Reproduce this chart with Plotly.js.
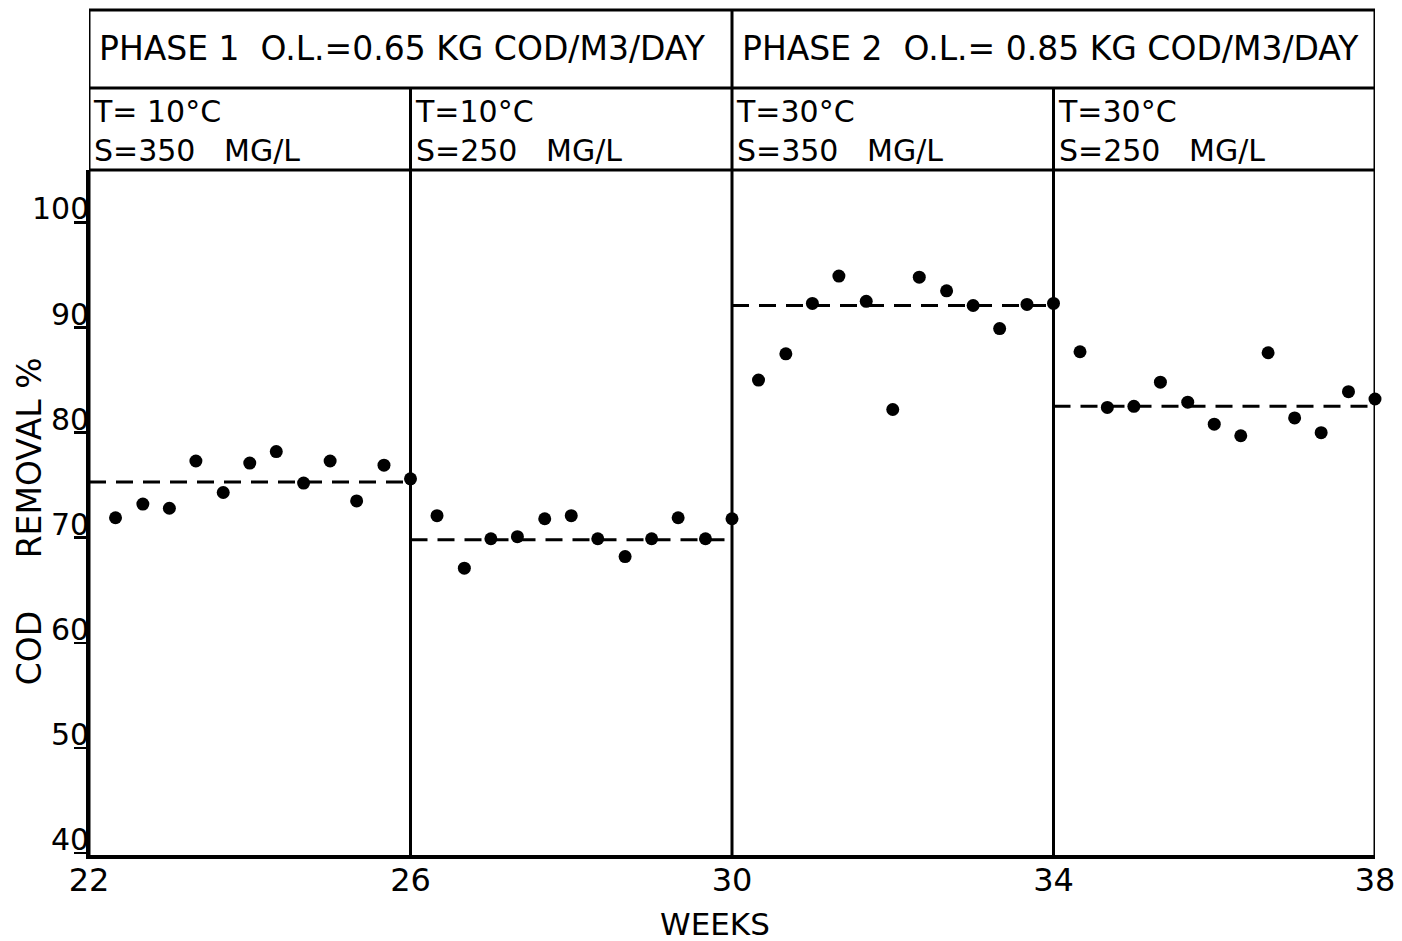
<!DOCTYPE html>
<html>
<head>
<meta charset="utf-8">
<script src="https://cdn.plot.ly/plotly-3.0.1.min.js"></script>
<style>
  html, body { margin: 0; padding: 0; background: #fff; }
  #chart { width: 1402px; height: 941px; }
</style>
</head>
<body>
<div id="chart"></div>
<script>
// Weekly COD removal, four operating periods
const weeksA = [22.33, 22.67, 23, 23.33, 23.67, 24, 24.33, 24.67, 25, 25.33, 25.67, 26];
const removalA = [71.9, 73.2, 72.8, 77.3, 74.3, 77.1, 78.2, 75.2, 77.3, 73.5, 76.9, 75.6];

const weeksB = [26.33, 26.67, 27, 27.33, 27.67, 28, 28.33, 28.67, 29, 29.33, 29.67, 30];
const removalB = [72.1, 67.1, 69.9, 70.1, 71.8, 72.1, 69.9, 68.2, 69.9, 71.9, 69.9, 71.8];

const weeksC = [30.33, 30.67, 31, 31.33, 31.67, 32, 32.33, 32.67, 33, 33.33, 33.67, 34];
const removalC = [85.0, 87.5, 92.3, 94.9, 92.5, 82.2, 94.8, 93.5, 92.1, 89.9, 92.2, 92.3];

const weeksD = [34.33, 34.67, 35, 35.33, 35.67, 36, 36.33, 36.67, 37, 37.33, 37.67, 38];
const removalD = [87.7, 82.4, 82.5, 84.8, 82.9, 80.8, 79.7, 87.6, 81.4, 80.0, 83.9, 83.2];

// period boundaries (weeks) and mean removal per period
const panelEdges = [22, 26, 30, 34, 38];
const periodMeans = [75.3, 69.8, 92.1, 82.5];

const xTickVals = [22, 26, 30, 34, 38];
const yTickVals = [40, 50, 60, 70, 80, 90, 100];

const phaseLabels = ["PHASE 1  O.L.=0.65 KG COD/M3/DAY", "PHASE 2  O.L.= 0.85 KG COD/M3/DAY"];
const tempLabels = ["T= 10°C", "T=10°C", "T=30°C", "T=30°C"];
const substrateLabels = ["S=350   MG/L", "S=250   MG/L", "S=350   MG/L", "S=250   MG/L"];

const FONT = "DejaVu Sans, Liberation Sans, sans-serif";
const INK = "#000";

// vertical layout of the header table (paper units)
const plotTop = 0.8107;
const rowSplit = 0.9077;

const pointSets = [[weeksA, removalA], [weeksB, removalB], [weeksC, removalC], [weeksD, removalD]];

const traces = [];
pointSets.forEach((set, i) => {
  traces.push({
    x: [panelEdges[i], panelEdges[i + 1]],
    y: [periodMeans[i], periodMeans[i]],
    mode: "lines",
    line: { color: INK, width: 3, dash: "17px,10px" },
    hoverinfo: "skip",
    cliponaxis: false
  });
  traces.push({
    x: set[0],
    y: set[1],
    mode: "markers",
    marker: { color: INK, size: 13 },
    cliponaxis: false
  });
});

const shapes = [];
// horizontal rules of the header table
[plotTop, rowSplit, 1].forEach(yy => {
  shapes.push({
    type: "line", xref: "x", yref: "paper",
    x0: panelEdges[0], x1: panelEdges[panelEdges.length - 1], y0: yy, y1: yy,
    line: { color: INK, width: 3 }
  });
});
// vertical dividers: phase boundaries run to the top, sub-period ones stop at the phase row
panelEdges.forEach((e, i) => {
  const full = (i % 2 === 0);
  shapes.push({
    type: "line", xref: "x", yref: "paper",
    x0: e, x1: e, y0: 0, y1: full ? 1 : rowSplit,
    line: { color: INK, width: 3 }
  });
});

const annotations = [];
// y tick labels sit on top of their tick marks
yTickVals.forEach(v => {
  annotations.push({
    xref: "paper", yref: "y", x: 0, y: v,
    xanchor: "right", yanchor: "bottom", xshift: 2, yshift: -6,
    text: String(v), showarrow: false,
    font: { family: FONT, size: 30, color: INK }
  });
});
// phase row
phaseLabels.forEach((t, i) => {
  annotations.push({
    xref: "x", yref: "paper", x: panelEdges[i * 2], y: 0.954,
    xanchor: "left", yanchor: "middle", xshift: 8,
    text: t, showarrow: false,
    font: { family: FONT, size: 33, color: INK }
  });
});
// temperature / substrate row, two lines per cell
tempLabels.forEach((t, i) => {
  annotations.push({
    xref: "x", yref: "paper", x: panelEdges[i], y: 0.857,
    xanchor: "left", yanchor: "middle", xshift: 2, align: "left",
    text: t + "<br>" + substrateLabels[i], showarrow: false,
    font: { family: FONT, size: 30, color: INK }
  });
});
// axis titles
annotations.push({
  xref: "paper", yref: "paper", x: 0, y: 0.395, xshift: -60,
  xanchor: "center", yanchor: "middle", textangle: -90,
  text: "COD     REMOVAL %", showarrow: false,
  font: { family: FONT, size: 33, color: INK }
});
annotations.push({
  xref: "paper", yref: "paper", x: 0.487, y: -0.0815,
  xanchor: "center", yanchor: "middle",
  text: "WEEKS", showarrow: false,
  font: { family: FONT, size: 31, color: INK }
});

const layout = {
  width: 1402, height: 941,
  margin: { l: 89, r: 27, t: 10, b: 86 },
  paper_bgcolor: "#fff", plot_bgcolor: "#fff",
  showlegend: false,
  xaxis: {
    range: [22, 38],
    tickvals: xTickVals,
    ticktext: xTickVals.map(String),
    ticks: "", showgrid: false, zeroline: false,
    showline: true, linecolor: INK, linewidth: 4,
    tickfont: { family: FONT, size: 32, color: INK },
    ticklabelstandoff: -6
  },
  yaxis: {
    domain: [0, plotTop],
    range: [39.8, 105.0],
    tickvals: yTickVals,
    showticklabels: false,
    ticks: "outside", ticklen: 12, tickwidth: 2.5, tickcolor: INK,
    showgrid: false, zeroline: false,
    showline: true, linecolor: INK, linewidth: 3
  },
  shapes: shapes,
  annotations: annotations
};

Plotly.newPlot("chart", traces, layout, { displayModeBar: false, staticPlot: true });
</script>
</body>
</html>
